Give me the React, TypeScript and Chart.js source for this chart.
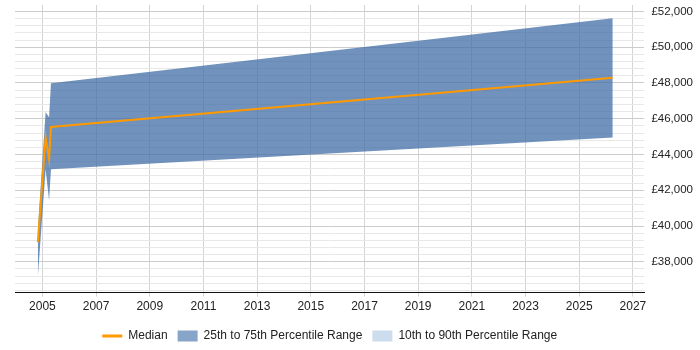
import React, { useEffect, useRef } from 'react';
import { Chart, registerables } from 'chart.js';

Chart.register(...registerables);

// Data (decimal years)
const years = [2004.83, 2005.12, 2005.25, 2005.32, 2026.25];
const median = [39100, 44950, 43730, 45540, 48290];
const p75 = [39750, 46380, 46090, 47980, 51620];
const p25 = [37130, 43170, 41430, 43170, 44950];
const p90: number[] = [];
const p10: number[] = [];

const xTickYears = [2005, 2007, 2009, 2011, 2013, 2015, 2017, 2019, 2021, 2023, 2025, 2027];
const yMajorTicks = [38000, 40000, 42000, 44000, 46000, 48000, 50000, 52000];
const yTickLabels = ['£38,000', '£40,000', '£42,000', '£44,000', '£46,000', '£48,000', '£50,000', '£52,000'];
const yMinorStep = 400;

const X_MIN = 2003.98;
const X_MAX = 2027.43;
const Y_MIN = 36280;
const Y_MAX = 52360;

const ORANGE = '#ff9900';
const BAND = 'rgba(65,110,165,0.75)';
const BAND_LEGEND = 'rgb(135,165,200)';
const OUTER_LEGEND = 'rgb(204,221,238)';

const pts = (ys: number[]) => ys.map((y, i) => ({ x: years[i], y }));

export default function App() {
  const ref = useRef<HTMLCanvasElement | null>(null);
  useEffect(() => {
    if (!ref.current) return;
    const font = "'Liberation Sans', Arial, sans-serif";
    const noPad = (scale: any) => {
      scale.paddingTop = 0;
      scale.paddingBottom = 0;
      scale.paddingLeft = 0;
      scale.paddingRight = 0;
    };
    const chart = new Chart(ref.current, {
      type: 'line',
      data: {
        datasets: [
          {
            label: 'Median',
            data: pts(median),
            borderColor: ORANGE,
            backgroundColor: ORANGE,
            borderWidth: 2,
            pointRadius: 0,
            tension: 0,
            fill: false,
          },
          {
            label: '25th to 75th Percentile Range',
            data: pts(p75),
            borderWidth: 0,
            borderColor: 'rgba(0,0,0,0)',
            backgroundColor: BAND,
            pointRadius: 0,
            tension: 0,
            fill: '+1',
          },
          {
            label: 'p25',
            data: pts(p25),
            borderWidth: 0,
            borderColor: 'rgba(0,0,0,0)',
            backgroundColor: BAND,
            pointRadius: 0,
            tension: 0,
            fill: false,
          },
          {
            label: '10th to 90th Percentile Range',
            data: p90.map((y, i) => ({ x: years[i], y })),
            borderWidth: 0,
            borderColor: 'rgba(0,0,0,0)',
            backgroundColor: OUTER_LEGEND,
            pointRadius: 0,
            fill: '+1',
          },
          {
            label: 'p10',
            data: p10.map((y, i) => ({ x: years[i], y })),
            borderWidth: 0,
            borderColor: 'rgba(0,0,0,0)',
            backgroundColor: OUTER_LEGEND,
            pointRadius: 0,
            fill: false,
          },
        ],
      },
      options: {
        animation: false,
        responsive: true,
        maintainAspectRatio: false,
        layout: { padding: { left: 15, top: 5, right: 0, bottom: -2 } },
        scales: {
          x: {
            type: 'linear',
            min: X_MIN,
            max: X_MAX,
            afterBuildTicks: (scale: any) => {
              scale.ticks = xTickYears.map((v) => ({ value: v }));
            },
            afterFit: (scale: any) => {
              noPad(scale);
              scale.height += 3;
            },
            ticks: {
              autoSkip: false,
              maxRotation: 0,
              padding: 3,
              color: '#222',
              font: { family: font, size: 12 },
              callback: (v: any) => String(v),
            },
            grid: { color: '#d4d4d4', tickLength: 4, drawTicks: true },
            border: { display: true, color: '#111', width: 1 },
          },
          y: {
            type: 'linear',
            position: 'right',
            min: Y_MIN,
            max: Y_MAX,
            afterBuildTicks: (scale: any) => {
              const t: any[] = [];
              for (let v = Math.ceil(Y_MIN / yMinorStep) * yMinorStep; v <= Y_MAX; v += yMinorStep) t.push({ value: v });
              scale.ticks = t;
            },
            afterFit: noPad,
            ticks: {
              autoSkip: false,
              padding: 7,
              color: '#222',
              font: { family: font, size: 11.5 },
              callback: (v: any) => {
                const i = yMajorTicks.indexOf(Number(v));
                return i >= 0 ? yTickLabels[i] : '';
              },
            },
            grid: {
              drawTicks: false,
              color: (ctx: any) =>
                ctx.tick && yMajorTicks.indexOf(ctx.tick.value) >= 0 ? '#cccccc' : '#e8e8e8',
            },
            border: { display: false },
          },
        },
        plugins: {
          tooltip: { enabled: false },
          legend: {
            position: 'bottom',
            fullSize: false,
            labels: {
              usePointStyle: true,
              pointStyleWidth: 20,
              boxHeight: 11,
              padding: 10,
              color: '#222',
              font: { family: font, size: 12 },
              generateLabels: () => [
                { text: 'Median', fillStyle: ORANGE, strokeStyle: ORANGE, lineWidth: 3, pointStyle: 'line', hidden: false, datasetIndex: 0, fontColor: '#222' } as any,
                { text: '25th to 75th Percentile Range', fillStyle: BAND_LEGEND, strokeStyle: BAND_LEGEND, lineWidth: 0, pointStyle: 'rect', hidden: false, datasetIndex: 1, fontColor: '#222' } as any,
                { text: '10th to 90th Percentile Range', fillStyle: OUTER_LEGEND, strokeStyle: OUTER_LEGEND, lineWidth: 0, pointStyle: 'rect', hidden: false, datasetIndex: 3, fontColor: '#222' } as any,
              ],
            },
          },
        },
      },
    });
    return () => chart.destroy();
  }, []);
  return (
    <div style={{ position: 'fixed', left: 0, top: 0, width: 700, height: 350 }}>
      <canvas ref={ref} />
    </div>
  );
}
